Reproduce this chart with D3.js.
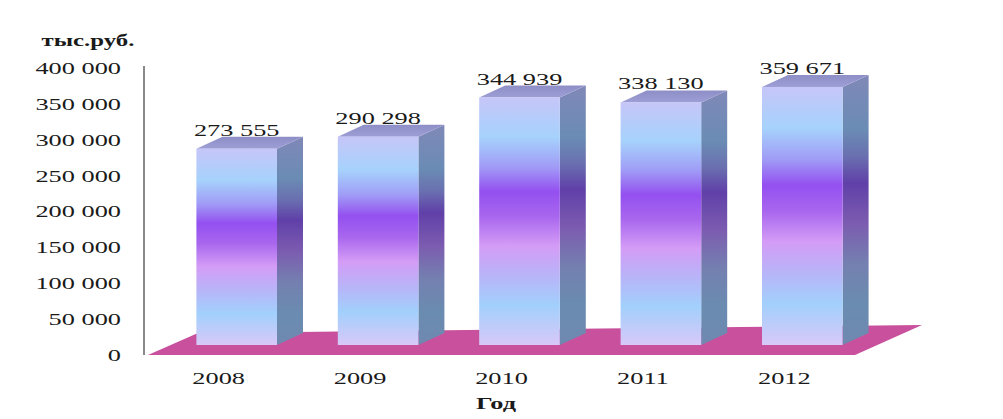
<!DOCTYPE html>
<html>
<head>
<meta charset="utf-8">
<script src="https://cdn.jsdelivr.net/npm/d3@7"></script>
<style>
  body { margin: 0; background: #fff; }
  text { font-family: "Liberation Serif", "Times New Roman", serif; fill: #1a1a1a; }
</style>
</head>
<body>
<div id="chart"></div>
<script>
// data
const years = ['2008', '2009', '2010', '2011', '2012'];
const values = [273555, 290298, 344939, 338130, 359671];
const yTicks = [0, 50000, 100000, 150000, 200000, 250000, 300000, 350000, 400000];

const width = 1003;
const height = 419;
const stretch = 1.55; // text in the picture is wider than it is tall

const fmt = v => d3.format(',')(v).replace(/,/g, ' ');

const svg = d3.select('#chart')
    .append('svg')
    .attr('width', width)
    .attr('height', height);

const x = d3.scaleBand()
    .domain(years)
    .range([148, 855])
    .paddingInner(0.43)
    .paddingOuter(0.215);

const y = d3.scaleLinear()
    .domain([0, 400000])
    .range([355, 68]);

// gradients
const defs = svg.append('defs');
const addGrad = (id, stops) => {
    const g = defs.append('linearGradient')
        .attr('id', id)
        .attr('x1', 0).attr('y1', 0).attr('x2', 0).attr('y2', 1);
    stops.forEach(s => g.append('stop').attr('offset', s[0]).attr('stop-color', s[1]));
};
addGrad('front', [
    [0, '#c6c6f8'], [0.16, '#a6d2fc'], [0.28, '#a09cf6'], [0.38, '#9450f0'],
    [0.48, '#a866ee'], [0.6, '#d49cf6'], [0.72, '#b8b4f8'], [0.84, '#a2d0fc'],
    [1, '#d8c8f8']
]);
addGrad('side', [
    [0, '#8088b8'], [0.2, '#6a8cb4'], [0.3, '#6a70b0'], [0.4, '#6040a8'],
    [0.55, '#7c5cb0'], [0.7, '#7480b0'], [0.85, '#6a8cb0'], [1, '#7088b0']
]);
addGrad('top', [[0, '#8e8ec6'], [1, '#9e9ed6']]);

// floor
const floorL = [50, -22];
const floorR = [67, -30];
const [fx0, fx1] = x.range();
const fy = y(0);
svg.append('polygon')
    .attr('points', [
        [fx0, fy], [fx1, fy], [fx1 + floorR[0], fy + floorR[1]], [fx0 + floorL[0], fy + floorL[1]]
    ].map(p => p.join(',')).join(' '))
    .attr('fill', '#c8509c');

// value axis line
svg.append('line')
    .attr('x1', 144).attr('x2', 144)
    .attr('y1', y(400000) - 2).attr('y2', y(0))
    .attr('stroke', '#8a8a8a')
    .attr('stroke-width', 2);

// tick labels
svg.append('g')
    .selectAll('text')
    .data(yTicks)
    .enter().append('text')
    .attr('transform', d => `translate(121, ${y(d)}) scale(${stretch}, 1)`)
    .attr('dy', '0.35em')
    .attr('text-anchor', 'end')
    .attr('font-size', 17)
    .text(d => fmt(d));

// bars
const shift = [18, -10];
const depth = [26, -12];
const bw = x.bandwidth();
const yb = y(0) + shift[1];

const bars = svg.append('g')
    .selectAll('g')
    .data(years.map((yr, i) => ({ year: yr, value: values[i] })))
    .enter().append('g');

const pts = arr => arr.map(p => p.join(',')).join(' ');

bars.append('polygon')
    .attr('points', d => {
        const xf = x(d.year) + shift[0];
        const yf = y(d.value) + shift[1];
        return pts([[xf + bw, yf], [xf + bw + depth[0], yf + depth[1]],
            [xf + bw + depth[0], yb + depth[1]], [xf + bw, yb]]);
    })
    .attr('fill', 'url(#side)');

bars.append('polygon')
    .attr('points', d => {
        const xf = x(d.year) + shift[0];
        const yf = y(d.value) + shift[1];
        return pts([[xf, yf], [xf + depth[0], yf + depth[1]],
            [xf + bw + depth[0], yf + depth[1]], [xf + bw, yf]]);
    })
    .attr('fill', 'url(#top)');

bars.append('rect')
    .attr('x', d => x(d.year) + shift[0])
    .attr('y', d => y(d.value) + shift[1])
    .attr('width', bw)
    .attr('height', d => yb - (y(d.value) + shift[1]))
    .attr('fill', 'url(#front)');

// value labels
bars.append('text')
    .attr('transform', d => `translate(${x(d.year) + shift[0] + bw / 2}, ${y(d.value) + shift[1] + depth[1] - 1}) scale(${stretch}, 1)`)
    .attr('text-anchor', 'middle')
    .attr('font-size', 17)
    .text(d => fmt(d.value));

// category labels
svg.append('g')
    .selectAll('text')
    .data(years)
    .enter().append('text')
    .attr('transform', d => `translate(${x(d) + bw / 2}, 384) scale(${stretch}, 1)`)
    .attr('text-anchor', 'middle')
    .attr('font-size', 17)
    .text(d => d);

// axis titles
svg.append('text')
    .attr('transform', `translate(88, 46) scale(${stretch}, 1)`)
    .attr('text-anchor', 'middle')
    .attr('font-size', 16)
    .attr('font-weight', 'bold')
    .text('тыс.руб.');

svg.append('text')
    .attr('transform', `translate(496, 409) scale(${stretch}, 1)`)
    .attr('text-anchor', 'middle')
    .attr('font-size', 17)
    .attr('font-weight', 'bold')
    .text('Год');
</script>
</body>
</html>
